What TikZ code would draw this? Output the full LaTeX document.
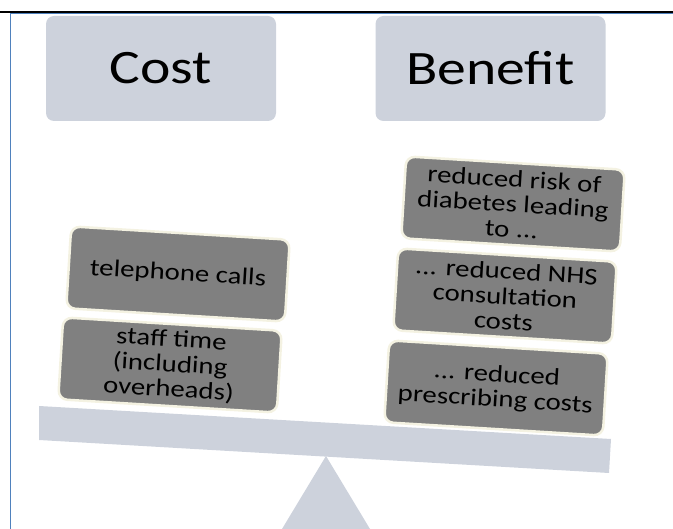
\documentclass[tikz,border=0pt]{standalone}
\usepackage{fontspec}
\setmainfont{Carlito}[FakeStretch=1.2]
\usepackage{xcolor}
\definecolor{panel}{RGB}{205,210,220}
\definecolor{brick}{RGB}{128,128,128}
\definecolor{halo}{RGB}{244,242,226}
\definecolor{rule}{RGB}{79,129,189}

\begin{document}
\begin{tikzpicture}[x=1pt,y=-1pt,
    headbox/.style={fill=panel, rounded corners=8pt, minimum width=230pt, minimum height=105pt, font=\fontsize{48}{58}\selectfont},
    weight/.style={fill=brick, draw=halo, line width=2.5pt, rounded corners=9pt, rotate=-3.5, minimum width=219pt, minimum height=82pt, align=center, inner sep=2pt, font=\fontsize{24}{25}\selectfont}]
    \useasboundingbox (0,0) rectangle (673,529);
    \draw[black, line width=1.5pt] (0,12) -- (673,12);
    \draw[rule, line width=1.5pt] (673,13.5) -- (10.5,13.5) -- (10.5,529);
    \node[headbox] (cost) at (161,68.5) {Cost};
    \node[headbox] (benefit) at (490.5,68.5) {Benefit};
    \fill[panel] (326,456) -- (370,529) -- (282,529) -- cycle;
    \fill[panel] (39,406) -- (611,439) -- (609,473) -- (39,440) -- cycle;
    \node[weight] (calls) at (178,274) {telephone calls};
    \node[weight] (staff) at (170,365) {staff time\\(including\\overheads)};
    \node[weight] (risk) at (513,204) {reduced risk of\\diabetes leading\\to ...};
    \node[weight] (nhs) at (505,296) {... reduced NHS\\consultation\\costs};
    \node[weight] (prescribing) at (496,388) {... reduced\\prescribing costs};
\end{tikzpicture}
\end{document}
